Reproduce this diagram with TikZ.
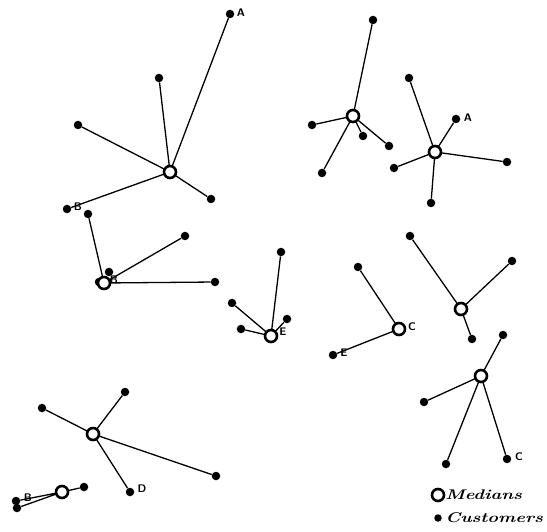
\documentclass[tikz,border=0pt]{standalone}
\usetikzlibrary{positioning}
\begin{document}
\begin{tikzpicture}[x=1pt,y=-1pt,
  med/.style={circle,draw=black,fill=white,line width=2.6pt,minimum size=12pt,inner sep=0pt},
  cust/.style={circle,fill=black,minimum size=8.5pt,inner sep=0pt},
  link/.style={line width=1.3pt},
  lab/.style={font=\sffamily\bfseries\fontsize{11}{12}\selectfont,inner sep=0pt},
  legtext/.style={font=\bfseries\itshape\fontsize{14}{16}\selectfont,inner sep=0pt,anchor=west}]
\useasboundingbox (0,0) rectangle (547,532);
% cluster 1
\node[cust] (a1) at (230,14) {};
\node[cust] (a2) at (159,78) {};
\node[cust] (a3) at (78,125) {};
\node[cust] (a4) at (211,199) {};
\node[cust] (a5) at (67,209) {};
\node[lab] (la1) at (241,13) {A};
\node[lab] (la5) at (78,207) {B};
\draw[link] (a1) -- (170,172) (a2) -- (170,172) (a3) -- (170,172) (a4) -- (170,172) (a5) -- (170,172);
\node[med] (m1) at (170,172) {};
% cluster 2
\node[cust] (b1) at (88,214) {};
\node[cust] (b2) at (185,236) {};
\node[cust] (b3) at (215,282) {};
\node[cust] (b4) at (109,272) {};
\node[cust] (b5) at (99,282) {};
\draw[link] (b1) -- (104,283) (b2) -- (104,283) (b3) -- (104,283);
\node[med] (m2) at (104,283) {};
\node[lab] (lb) at (114,280) {B};
% cluster 3
\node[cust] (c1) at (373,20) {};
\node[cust] (c2) at (312,125) {};
\node[cust] (c3) at (363,136) {};
\node[cust] (c4) at (389,146) {};
\node[cust] (c5) at (322,173) {};
\draw[link] (c1) -- (353,116) (c2) -- (353,116) (c3) -- (353,116) (c4) -- (353,116) (c5) -- (353,116);
\node[med] (m3) at (353,116) {};
% cluster 4
\node[cust] (d1) at (409,78) {};
\node[cust] (d2) at (456,119) {};
\node[cust] (d3) at (507,162) {};
\node[cust] (d4) at (394,168) {};
\node[cust] (d5) at (431,203) {};
\node[lab] (ld2) at (468,118) {A};
\draw[link] (d1) -- (435,152) (d2) -- (435,152) (d3) -- (435,152) (d4) -- (435,152) (d5) -- (435,152);
\node[med] (m4) at (435,152) {};
% cluster 5
\node[cust] (e1) at (281,252) {};
\node[cust] (e2) at (232,303) {};
\node[cust] (e3) at (241,329) {};
\node[cust] (e4) at (287,319) {};
\draw[link] (e1) -- (271,336) (e2) -- (271,336) (e3) -- (271,336) (e4) -- (271,336);
\node[med] (m5) at (271,336) {};
\node[lab] (le) at (283,332) {E};
% cluster 6
\node[cust] (f1) at (358,267) {};
\node[cust] (f2) at (333,355) {};
\node[lab] (lf2) at (344,353) {E};
\draw[link] (f1) -- (399,329) (f2) -- (399,329);
\node[med] (m6) at (399,329) {};
\node[lab] (lc) at (412,327) {C};
% cluster 7
\node[cust] (g1) at (410,236) {};
\node[cust] (g2) at (512,261) {};
\node[cust] (g3) at (472,339) {};
\draw[link] (g1) -- (461,309) (g2) -- (461,309) (g3) -- (461,309);
\node[med] (m7) at (461,309) {};
% cluster 8
\node[cust] (h1) at (503,335) {};
\node[cust] (h2) at (424,402) {};
\node[cust] (h3) at (446,464) {};
\node[cust] (h4) at (507,459) {};
\node[lab] (lh4) at (519,457) {C};
\draw[link] (h1) -- (481,376) (h2) -- (481,376) (h3) -- (481,376) (h4) -- (481,376);
\node[med] (m8) at (481,376) {};
% cluster 9
\node[cust] (i1) at (42,408) {};
\node[cust] (i2) at (125,392) {};
\node[cust] (i3) at (216,476) {};
\node[cust] (i4) at (130,492) {};
\node[lab] (li4) at (142,489) {D};
\draw[link] (i1) -- (93,434) (i2) -- (93,434) (i3) -- (93,434) (i4) -- (93,434);
\node[med] (m9) at (93,434) {};
% cluster 10
\node[cust] (j1) at (84,487) {};
\node[cust] (j2) at (16,501) {};
\node[cust] (j3) at (17,508) {};
\draw[link] (j1) -- (62,492) (j2) -- (62,492) (j3) -- (62,492);
\node[med] (m10) at (62,492) {};
\node[lab] (lj) at (28,498) {B};
% legend
\node[med] (legm) at (438,495) {};
\node[legtext,xscale=1.3] (legmt) at (445,495) {Medians};
\node[cust,minimum size=7.5pt] (legc) at (438,518) {};
\node[legtext,xscale=1.3] (legct) at (445,518) {Customers};
\end{tikzpicture}
\end{document}
